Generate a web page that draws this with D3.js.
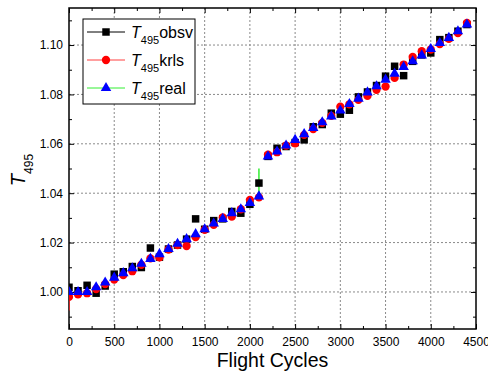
<!DOCTYPE html>
<html>
<head>
<meta charset="utf-8">
<script src="https://cdn.jsdelivr.net/npm/d3@7"></script>
<style>
  html, body { margin: 0; padding: 0; background: #fff; }
  svg { display: block; font-family: "Liberation Sans", Arial, sans-serif; }
</style>
</head>
<body>
<svg id="chart" width="488" height="374"></svg>
<script>
// ---- data ----
const cycles = [0,100,200,300,400,500,600,700,800,900,1000,1100,1200,1300,1400,1500,1600,1700,1800,1900,
  2000,2100,2200,2300,2400,2500,2600,2700,2800,2900,3000,3100,3200,3300,3400,3500,3600,3700,3800,3900,
  4000,4100,4200,4300,4400];
const obsv = [1.0019,1.0005,1.0027,0.9995,1.0024,1.0072,1.0082,1.0103,1.0099,1.0178,
  1.0141,1.0174,1.0190,1.0214,1.0296,1.0254,1.0289,1.0296,1.0326,1.0319,
  1.0355,1.0441,1.0549,1.0582,1.0589,1.0605,1.0616,1.0669,1.0678,1.0724,
  1.0720,1.0736,1.0790,1.0810,1.0836,1.0874,1.0914,1.0876,1.0934,1.0960,
  1.0968,1.1022,1.1030,1.1056,1.1083];
const krls = [0.9980,0.9990,0.9995,1.0012,1.0032,1.0050,1.0068,1.0084,1.0110,1.0136,
  1.0140,1.0172,1.0190,1.0186,1.0222,1.0252,1.0272,1.0302,1.0305,1.0335,
  1.0373,1.0383,1.0556,1.0566,1.0593,1.0602,1.0636,1.0660,1.0685,1.0713,
  1.0750,1.0760,1.0778,1.0794,1.0819,1.0832,1.0867,1.0921,1.0952,1.0975,
  1.0982,1.1004,1.1025,1.1048,1.1090];
const real = [1.0000,1.0000,1.0000,1.0019,1.0038,1.0058,1.0076,1.0096,1.0114,1.0134,
  1.0153,1.0174,1.0195,1.0214,1.0234,1.0254,1.0277,1.0296,1.0319,1.0335,
  1.0360,1.0387,1.0549,1.0569,1.0593,1.0616,1.0639,1.0664,1.0687,1.0711,
  1.0735,1.0761,1.0783,1.0808,1.0833,1.0860,1.0884,1.0911,1.0934,1.0958,
  1.0984,1.1008,1.1029,1.1056,1.1083];
// green step of the real line seen at the jump
const realJumpCycles = [2100, 2100];
const realJumpValues = [1.0387, 1.0500];
// red line tail seen at the start of the krls series
const krlsStartCycles = [0, 0];
const krlsStartValues = [0.9925, 0.9985];

const xTicks = [0,500,1000,1500,2000,2500,3000,3500,4000,4500];
const yTicks = [1.00,1.02,1.04,1.06,1.08,1.10];
const xMinor = [250,750,1250,1750,2250,2750,3250,3750,4250];
const yMinor = [0.99,1.01,1.03,1.05,1.07,1.09,1.11];

// ---- layout ----
const L = 69, R = 476, T = 8, B = 329;
const svg = d3.select("#chart");
const x = d3.scaleLinear().domain([0, 4500]).range([L, R]);
const y = d3.scaleLinear().domain([0.985, 1.115]).range([B, T]);

// grid
const grid = svg.append("g").attr("stroke", "#8a8a8a").attr("stroke-width", 1).attr("stroke-dasharray", "2,2");
xTicks.filter(v => v > 0 && v < 4500).forEach(v => {
  grid.append("line").attr("x1", x(v)).attr("x2", x(v)).attr("y1", T).attr("y2", B);
});
yTicks.forEach(v => {
  grid.append("line").attr("x1", L).attr("x2", R).attr("y1", y(v)).attr("y2", y(v));
});

// axes
function styleAxis(g) {
  g.selectAll(".domain").remove();
  g.selectAll(".tick line").attr("stroke", "#000").attr("stroke-width", 1);
  g.selectAll("text").attr("font-size", "12px").attr("fill", "#000")
    .attr("font-family", "'Liberation Sans', Arial, sans-serif");
}
svg.append("g").attr("transform", `translate(0,${B})`)
  .call(d3.axisBottom(x).tickValues(xTicks).tickSizeInner(-5).tickSizeOuter(0).tickPadding(8).tickFormat(d3.format("d")))
  .call(styleAxis);
svg.append("g").attr("transform", `translate(0,${B})`)
  .call(d3.axisBottom(x).tickValues(xMinor).tickSizeInner(-3).tickSizeOuter(0).tickFormat(""))
  .call(styleAxis);
svg.append("g").attr("transform", `translate(0,${T})`)
  .call(d3.axisTop(x).tickValues(xTicks).tickSizeInner(-5).tickSizeOuter(0).tickFormat(""))
  .call(styleAxis);
svg.append("g").attr("transform", `translate(0,${T})`)
  .call(d3.axisTop(x).tickValues(xMinor).tickSizeInner(-3).tickSizeOuter(0).tickFormat(""))
  .call(styleAxis);
svg.append("g").attr("transform", `translate(${L},0)`)
  .call(d3.axisLeft(y).tickValues(yTicks).tickSizeInner(-5).tickSizeOuter(0).tickPadding(6).tickFormat(d3.format(".2f")))
  .call(styleAxis);
svg.append("g").attr("transform", `translate(${L},0)`)
  .call(d3.axisLeft(y).tickValues(yMinor).tickSizeInner(-3).tickSizeOuter(0).tickFormat(""))
  .call(styleAxis);
svg.append("g").attr("transform", `translate(${R},0)`)
  .call(d3.axisRight(y).tickValues(yTicks).tickSizeInner(-5).tickSizeOuter(0).tickFormat(""))
  .call(styleAxis);
svg.append("g").attr("transform", `translate(${R},0)`)
  .call(d3.axisRight(y).tickValues(yMinor).tickSizeInner(-3).tickSizeOuter(0).tickFormat(""))
  .call(styleAxis);

// frame
svg.append("rect").attr("x", L).attr("y", T).attr("width", R - L).attr("height", B - T)
  .attr("fill", "none").attr("stroke", "#000").attr("stroke-width", 1.5);

// series
svg.append("defs").append("clipPath").attr("id", "clip")
  .append("rect").attr("x", L).attr("y", T).attr("width", R - L).attr("height", B - T);
const plot = svg.append("g").attr("clip-path", "url(#clip)");
const line = d3.line().x(d => x(d[0])).y(d => y(d[1]));
const zip = (a, b) => a.map((v, i) => [v, b[i]]);

const obsvPts = zip(cycles, obsv), krlsPts = zip(cycles, krls), realPts = zip(cycles, real);

plot.append("path").datum(zip(realJumpCycles, realJumpValues)).attr("d", line).attr("fill", "none")
  .attr("stroke", "#33ee33").attr("stroke-width", 1.5);
plot.append("path").datum(zip(krlsStartCycles, krlsStartValues)).attr("d", line).attr("fill", "none")
  .attr("stroke", "#ff2020").attr("stroke-width", 1.5);

const sq = d3.symbol().type(d3.symbolSquare).size(56);
const ci = d3.symbol().type(d3.symbolCircle).size(54);
const tr = d3.symbol().type(d3.symbolTriangle).size(48);

plot.append("g").selectAll("path").data(obsvPts).join("path")
  .attr("d", sq).attr("transform", d => `translate(${x(d[0])},${y(d[1])})`).attr("fill", "#000");
plot.append("g").selectAll("path").data(krlsPts).join("path")
  .attr("d", ci).attr("transform", d => `translate(${x(d[0])},${y(d[1])})`).attr("fill", "#ff0000");
plot.append("g").selectAll("path").data(realPts).join("path")
  .attr("d", tr).attr("transform", d => `translate(${x(d[0])},${y(d[1])})`).attr("fill", "#0000ff");

// legend
const legendNames = ["obsv", "krls", "real"];
const legendLine = ["#000", "#ff4040", "#33ee33"];
const legendSym = [
  d3.symbol().type(d3.symbolSquare).size(56),
  d3.symbol().type(d3.symbolCircle).size(54),
  d3.symbol().type(d3.symbolTriangle).size(48)
];
const legendFill = ["#000", "#ff0000", "#0000ff"];
const lg = svg.append("g");
lg.append("rect").attr("x", 83).attr("y", 19).attr("width", 112).attr("height", 85)
  .attr("fill", "#fff").attr("stroke", "#000").attr("stroke-width", 1);
legendNames.forEach((name, i) => {
  const cy = 32 + i * 28;
  lg.append("line").attr("x1", 87).attr("x2", 125).attr("y1", cy).attr("y2", cy)
    .attr("stroke", legendLine[i]).attr("stroke-width", 1);
  lg.append("path").attr("d", legendSym[i]).attr("transform", `translate(106,${cy})`).attr("fill", legendFill[i]);
  const t = lg.append("text").attr("x", 131).attr("y", cy + 6).attr("font-size", "16px").attr("fill", "#000");
  t.append("tspan").attr("font-style", "italic").text("T");
  t.append("tspan").attr("font-size", "11px").attr("dy", 6).text("495");
  t.append("tspan").attr("dy", -6).text(name);
});

// axis titles
svg.append("text").attr("x", (L + R) / 2).attr("y", 367).attr("text-anchor", "middle")
  .attr("font-size", "19.5px").attr("fill", "#000").text("Flight Cycles");
const yl = svg.append("text").attr("transform", "translate(25,170) rotate(-90)")
  .attr("text-anchor", "middle").attr("font-size", "20px").attr("fill", "#000");
yl.append("tspan").attr("font-style", "italic").text("T");
yl.append("tspan").attr("font-size", "12px").attr("dy", 8).text("495");
</script>
</body>
</html>
